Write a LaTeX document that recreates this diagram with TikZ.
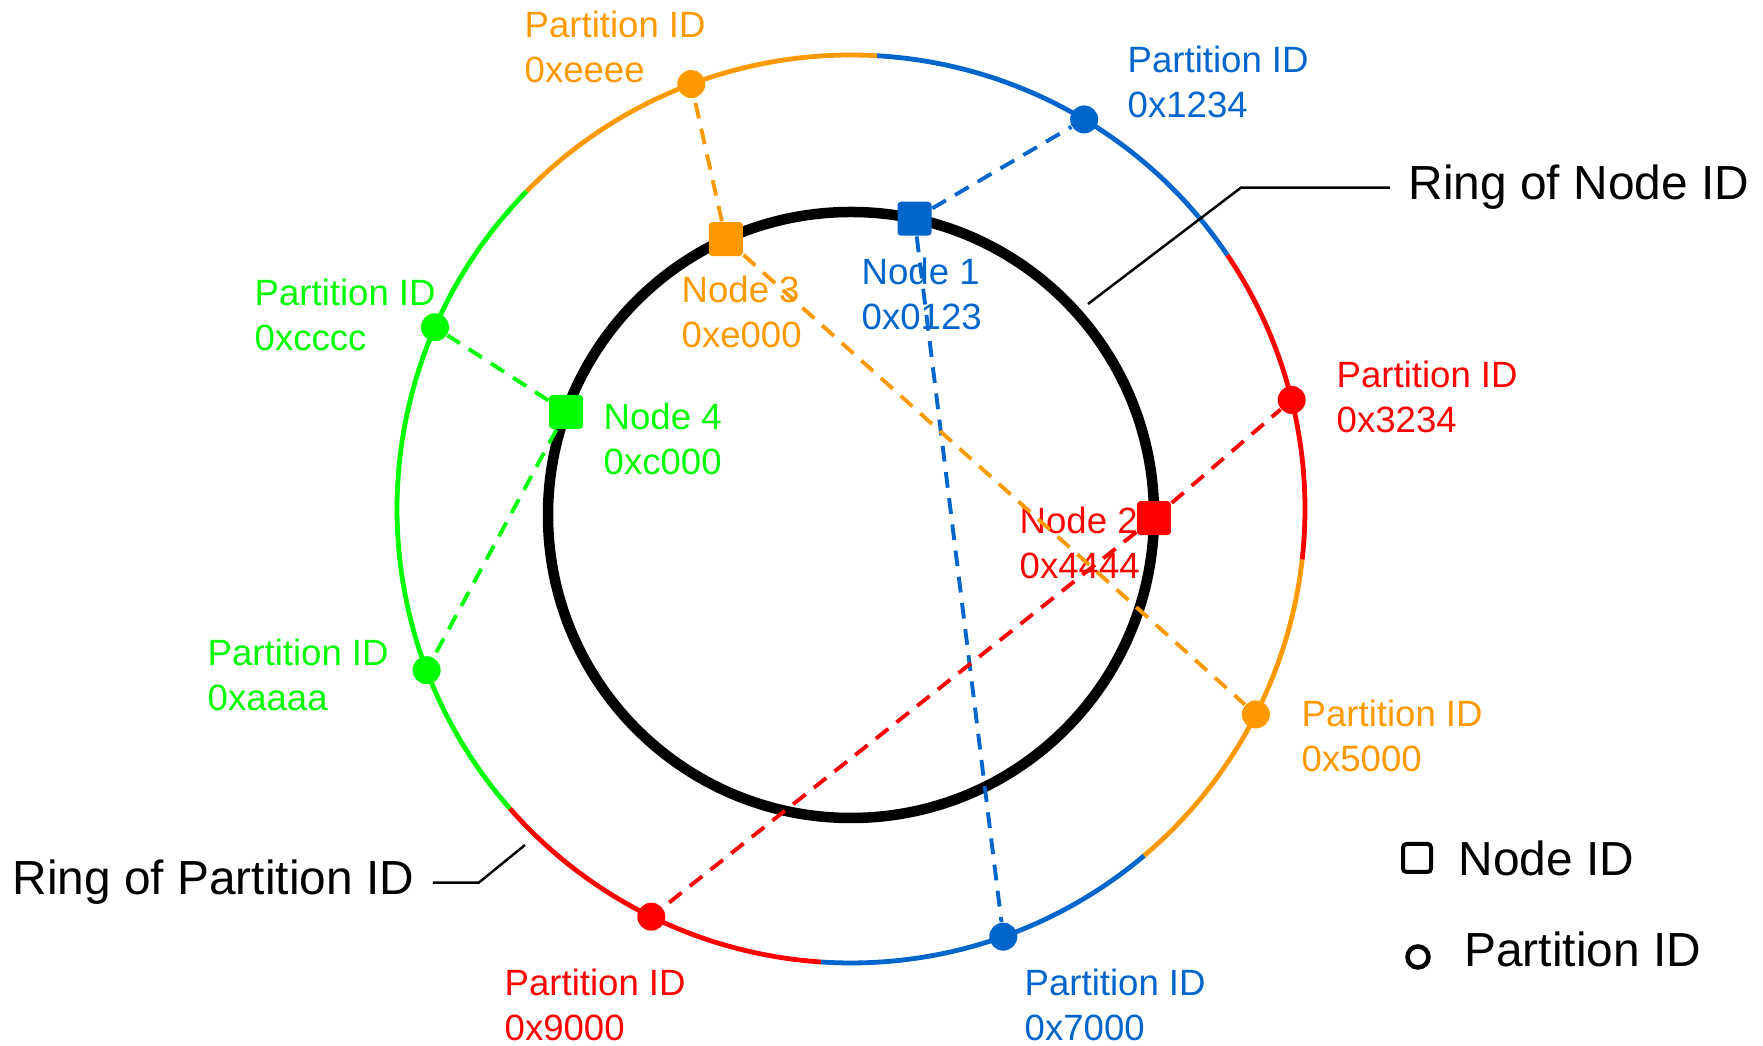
\documentclass[tikz,border=0pt]{standalone}
\usepackage{fontspec}
\setmainfont{Liberation Sans}
\usetikzlibrary{positioning}
\definecolor{idorange}{RGB}{255,153,0}
\definecolor{idblue}{RGB}{0,102,204}
\definecolor{idred}{RGB}{255,0,0}
\definecolor{idgreen}{RGB}{0,255,0}
\tikzset{nodestyle/.style={rectangle,minimum size=0.34cm,inner sep=0,rounded corners=1pt}}
\tikzset{partstyle/.style={circle,minimum size=0.28cm,inner sep=0}}
\tikzset{idstyle/.style={align=left,anchor=north west,inner sep=0,font=\fontsize{10.4}{12.8}\selectfont}}
\tikzset{ringstyle/.style={inner xsep=0.18cm,inner ysep=0,anchor=base west,font=\fontsize{13.6}{16}\selectfont}}
\tikzset{linkstyle/.style={dash pattern=on 4.5pt off 3pt,line width=1.1pt}}

\begin{document}
\begin{tikzpicture}[x=0.01cm,y=0.01cm]
        \useasboundingbox (0,0) rectangle (1763,1046);
        \coordinate (outc) at (851,537);
        \coordinate (innc) at (851,531);

        % Ring of partition ID
        \foreach \from/\to/\col in {135.6/221.3/idgreen,86.7/135.6/idorange,34.0/86.7/idblue,-6.4/34.0/idred,-49.8/-6.4/idorange,-93.8/-49.8/idblue,-138.7/-93.8/idred}
        {
            \draw[\col,line width=0.048cm] (outc) ++(\from:454) arc[start angle=\from,end angle=\to,radius=454];
        }

        % Ring of node ID
        \draw[line width=0.105cm] (innc) circle[radius=303];

        % Partition IDs
        \foreach \ang/\col/\id/\x/\y in {110.6/idorange/eeee/524/1036,59.1/idblue/1234/1127/1001,13.9/idred/3234/1336/686,-26.9/idorange/5000/1301/347,-70.4/idblue/7000/1024/78,-116.1/idred/9000/504/78,200.8/idgreen/aaaa/207/408,156.4/idgreen/cccc/254/768}
        {
            \node[partstyle,fill=\col] (p\id) at ([shift={(\ang:454)}]outc) {};
            \node[idstyle,text=\col] (lp\id) at (\x,\y) {Partition ID\\0x\id};
        }

        % Node IDs
        \foreach \ang/\col/\num/\id/\x/\y in {77.9/idblue/1/0123/861/789,-0.6/idred/2/4444/1019/540,114.4/idorange/3/e000/681/771,160.1/idgreen/4/c000/603/644}
        {
            \node[nodestyle,fill=\col] (n\num) at ([shift={(\ang:303)}]innc) {};
            \node[idstyle,text=\col] (ln\num) at (\x,\y) {Node \num\\0x\id};
        }

        % Dashed connections
        \foreach \start/\stop/\col in {n1/p1234/idblue,n1/p7000/idblue,n2/p3234/idred,n2/p9000/idred,n3/peeee/idorange,n3/p5000/idorange,n4/pcccc/idgreen,n4/paaaa/idgreen}
        {
            \draw[linkstyle,\col] (\start) -- (\stop);
        }

        % Ring names
        \node[ringstyle] (ringnodelbl) at (1390,846) {Ring of Node ID};
        \node[ringstyle] (ringpartlbl) at (-6,151) {Ring of Partition ID};
        \coordinate (nodering) at (1088,742);
        \coordinate (partring) at (525,201);
        \draw[line width=0.7pt] (ringnodelbl.west) -- ++(-149,0) -- (nodering);
        \draw[line width=0.7pt] (ringpartlbl.east) -- ++(46,0) -- (partring);

        % Legend
        \node[nodestyle,draw,line width=0.04cm,minimum size=0.28cm] (legnode) at (1417,188) {};
        \node[right=0.25cm of legnode,inner sep=0,font=\fontsize{13.6}{16}\selectfont] (legnodetxt) {Node ID};
        \node[partstyle,draw,line width=0.045cm,minimum size=0.21cm] (legpart) at (1418,89) {};
        \node[right=0.33cm of legpart,yshift=0.08cm,inner sep=0,font=\fontsize{13.6}{16}\selectfont] (legparttxt) {Partition ID};
    \end{tikzpicture}
\end{document}
